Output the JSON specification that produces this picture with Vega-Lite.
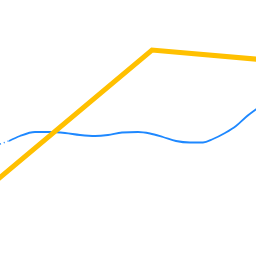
{
  "$schema": "https://vega.github.io/schema/vega-lite/v6.json",
  "autosize": {"type": "fit", "contains": "padding"},
  "width": 256,
  "height": 256,
  "padding": 0,
  "background": "white",
  "config": {"view": {"stroke": null}},
  "datasets": {
    "gold": [
      {"x": -10, "y": 70},
      {"x": 152, "y": 206},
      {"x": 266, "y": 196}
    ],
    "blueDash": [
      {"x": 0, "y": 112},
      {"x": 10, "y": 115.5}
    ],
    "blue": [
      {"x": 9, "y": 115},
      {"x": 20, "y": 120},
      {"x": 35, "y": 124},
      {"x": 50, "y": 124},
      {"x": 65, "y": 123},
      {"x": 80, "y": 121},
      {"x": 95, "y": 120},
      {"x": 108, "y": 121},
      {"x": 122, "y": 123.5},
      {"x": 138, "y": 124},
      {"x": 150, "y": 122.5},
      {"x": 163, "y": 119},
      {"x": 176, "y": 115},
      {"x": 190, "y": 113.5},
      {"x": 203, "y": 113.5},
      {"x": 213, "y": 117},
      {"x": 225, "y": 123},
      {"x": 236, "y": 130},
      {"x": 246, "y": 139},
      {"x": 258, "y": 148}
    ]
  },
  "encoding": {
    "x": {"field": "x", "type": "quantitative", "scale": {"domain": [0, 256], "nice": false, "zero": false}, "axis": null},
    "y": {"field": "y", "type": "quantitative", "scale": {"domain": [0, 256], "nice": false, "zero": false}, "axis": null}
  },
  "layer": [
    {
      "data": {"name": "blueDash"},
      "mark": {"type": "line", "clip": true, "color": "#1E88FF", "strokeWidth": 1.5, "strokeDash": [1, 3]}
    },
    {
      "data": {"name": "blue"},
      "mark": {"type": "line", "clip": true, "color": "#1E88FF", "strokeWidth": 1.8, "interpolate": "monotone"}
    },
    {
      "data": {"name": "gold"},
      "mark": {"type": "line", "clip": true, "color": "#FFC000", "strokeWidth": 5}
    }
  ]
}
